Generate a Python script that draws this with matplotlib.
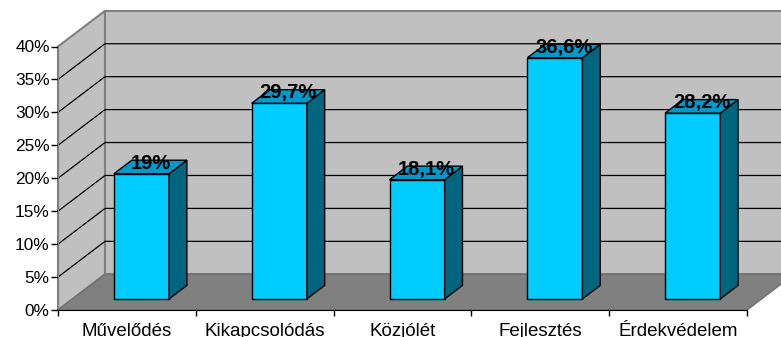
import matplotlib.pyplot as plt
from matplotlib.patches import Polygon

categories = ['Művelődés', 'Kikapcsolódás', 'Közjólét', 'Fejlesztés', 'Érdekvédelem']
values = [19, 29.7, 18.1, 36.6, 28.2]
y_ticks = [0, 5, 10, 15, 20, 25, 30, 35, 40]

plt.rcParams['font.family'] = ['Liberation Sans', 'DejaVu Sans']

W, H = 781, 337
fig = plt.figure(figsize=(W / 100, H / 100), dpi=100)
# axes = front plane of the 3D box
ax = fig.add_axes([58 / W, 27 / H, 689 / W, 263.5 / H])
ax.set_xlim(0, len(categories))
ax.set_ylim(0, 40)
ax.patch.set_visible(False)

# depth of the box, in data units (x: categories, y: percent)
DX, DY = 0.341, 5.42


def pt(x, y, f):
    # point at depth fraction f (0 = front, 1 = back)
    return (x + f * DX, y + f * DY)


def face(points, color, edge, lw=1.0, z=1):
    ax.add_patch(Polygon(points, closed=True, facecolor=color, edgecolor=edge,
                         linewidth=lw, zorder=z, clip_on=False))


n = len(categories)
top = y_ticks[-1]

# walls and floor
face([pt(0, 0, 1), pt(n, 0, 1), pt(n, top, 1), pt(0, top, 1)], '#C0C0C0', '#808080', 1.5, 0)
face([pt(0, 0, 0), pt(0, 0, 1), pt(0, top, 1), pt(0, top, 0)], '#C0C0C0', '#808080', 1.5, 0)
face([pt(0, 0, 0), pt(n, 0, 0), pt(n, 0, 1), pt(0, 0, 1)], '#808080', '#707070', 1.0, 0.5)

# gridlines on back and side walls
for v in y_ticks[1:-1]:
    xs, ys = zip(pt(0, v, 0), pt(0, v, 1), pt(n, v, 1))
    ax.plot(xs, ys, color='black', lw=0.9, zorder=0.8, clip_on=False)

# bars
bw = 0.40
f0, f1 = 0.31, 0.69
for i, v in enumerate(values):
    x0 = i + 0.5 - bw / 2
    x1 = x0 + bw
    face([pt(x0, 0, f0), pt(x1, 0, f0), pt(x1, v, f0), pt(x0, v, f0)], '#00CCFF', 'black', 1.0, 3)
    face([pt(x1, 0, f0), pt(x1, 0, f1), pt(x1, v, f1), pt(x1, v, f0)], '#006680', 'black', 1.0, 3)
    face([pt(x0, v, f0), pt(x1, v, f0), pt(x1, v, f1), pt(x0, v, f1)], '#0099CC', 'black', 1.0, 3)
    label = f"{v:g}".replace('.', ',') + '%'
    lx, ly = pt(i + 0.5, v, 0.5)
    ax.text(lx, ly - 0.25, label, ha='center', va='baseline', fontsize=14.5,
            fontweight='bold', color='black', zorder=5)

# axes
for s in ['top', 'right']:
    ax.spines[s].set_visible(False)
ax.spines['left'].set_color('#808080')
ax.spines['bottom'].set_color('black')
ax.spines['left'].set_zorder(2)
ax.spines['bottom'].set_zorder(2)

ax.set_yticks(y_ticks)
ax.set_yticklabels([f"{t}%" for t in y_ticks])
ax.tick_params(axis='y', length=5, width=1, pad=1, labelsize=12.4, color='black')

ax.set_xticks(range(n + 1))
ax.set_xticklabels([])
ax.set_xticks([i + 0.5 for i in range(n)], minor=True)
ax.set_xticklabels(categories, minor=True)
ax.tick_params(axis='x', which='major', length=4, width=1, color='black')
ax.tick_params(axis='x', which='minor', length=0, pad=9.5, labelsize=13.5)

fig.savefig('out.png', dpi=100)
